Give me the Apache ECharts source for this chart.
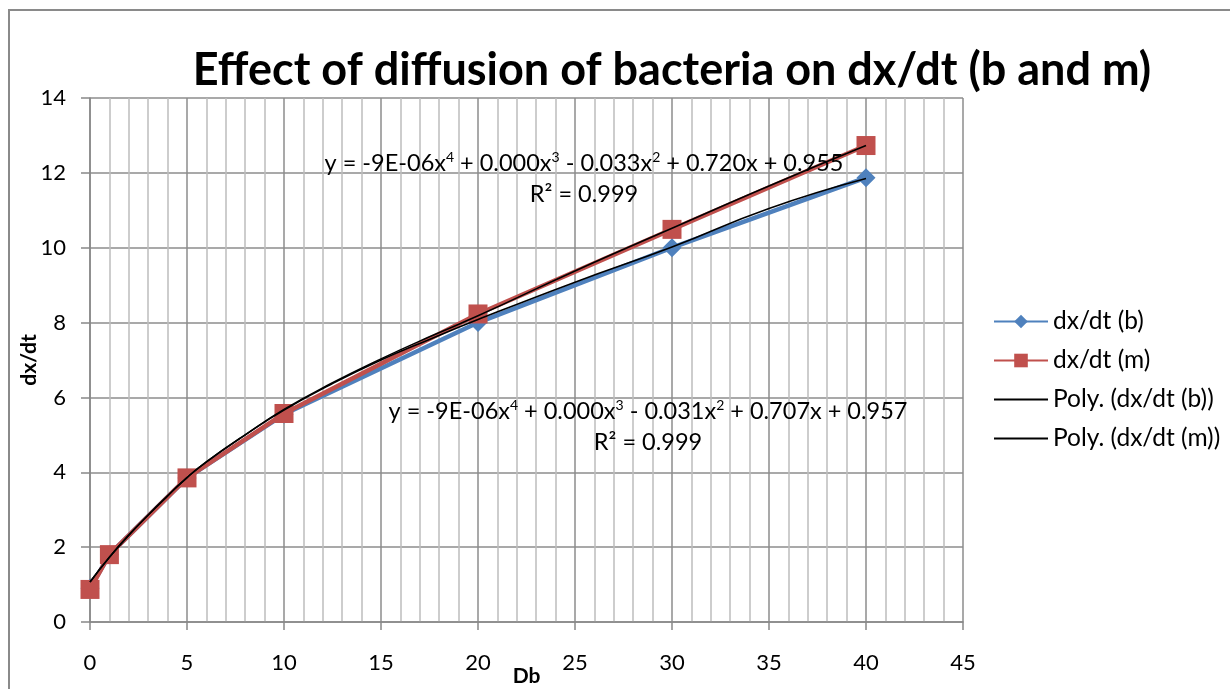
<!DOCTYPE html>
<html>
<head>
<meta charset="utf-8">
<script src="https://cdn.jsdelivr.net/npm/echarts@6/dist/echarts.min.js"></script>
<style>
  html, body { margin: 0; padding: 0; background: #fff; }
  #main { width: 1230px; height: 689px; }
</style>
</head>
<body>
<div id="main"></div>
<script>
// data
var xB = [0, 1, 5, 10, 20, 30, 40];
var dxdtB = [0.9, 1.8, 3.85, 5.55, 8.0, 10.0, 11.87];
var dxdtM = [0.87, 1.8, 3.85, 5.57, 8.23, 10.49, 12.73];

// trendlines (poly order 4)
var trendX = [0, 1, 2, 3, 4, 5, 6, 8, 10, 12.5, 15, 17.5, 20, 25, 30, 35, 40];
var trendB = [1.07, 1.73, 2.32, 2.86, 3.37, 3.86, 4.28, 5.0, 5.66, 6.37, 7.0, 7.55, 8.08, 9.08, 10.02, 11.05, 11.85];
var trendM = [1.07, 1.73, 2.32, 2.86, 3.37, 3.86, 4.28, 5.0, 5.68, 6.39, 7.03, 7.62, 8.18, 9.38, 10.52, 11.65, 12.73];

var eqM = 'y = -9E-06x{s|4} + 0.000x{s|3} - 0.033x{s|2} + 0.720x + 0.955';
var eqB = 'y = -9E-06x{s|4} + 0.000x{s|3} - 0.031x{s|2} + 0.707x + 0.957';

function pairs(xs, ys) {
    var out = [];
    for (var i = 0; i < xs.length; i++) out.push([xs[i], ys[i]]);
    return out;
}

var font = 'Lato, "Open Sans", sans-serif';
var chart = echarts.init(document.getElementById('main'));

var eqStyle = {
    fill: '#000', fontFamily: font, fontSize: 23.5, align: 'center', verticalAlign: 'middle',
    rich: { s: { fontSize: 14, verticalAlign: 'top', padding: [0, 0, 12, 0], fontFamily: font } }
};

chart.setOption({
    backgroundColor: '#fff',
    animation: false,
    title: {
        text: 'Effect of diffusion of bacteria on dx/dt (b and m)',
        left: 667, top: 43, textAlign: 'center',
        textStyle: { fontFamily: font, fontSize: 45, fontWeight: 'bold', color: '#000' }
    },
    legend: {
        orient: 'vertical',
        left: 988, top: 304,
        itemWidth: 54, itemHeight: 17, itemGap: 14,
        textStyle: { fontFamily: font, fontSize: 24.5, color: '#000' },
        data: [
            'dx/dt (b)',
            'dx/dt (m)',
            { name: 'Poly. (dx/dt (b))', itemStyle: { opacity: 0 } },
            { name: 'Poly. (dx/dt (m))', itemStyle: { opacity: 0 } }
        ]
    },
    grid: { left: 90, right: 267, top: 98, bottom: 67, outerBoundsMode: 'none' },
    xAxis: {
        type: 'value', min: 0, max: 45, interval: 5,
        name: 'Db', nameLocation: 'middle', nameGap: 44, nameMoveOverlap: false,
        nameTextStyle: { fontFamily: font, fontSize: 21, fontWeight: 'bold', color: '#000' },
        axisLine: { show: true, onZero: false, lineStyle: { color: '#888', width: 1.5 } },
        axisTick: { show: true, length: 8, lineStyle: { color: '#888', width: 1.5 } },
        axisLabel: { margin: 30, fontFamily: font, fontSize: 22, color: '#000' },
        splitLine: { show: true, lineStyle: { color: '#8c8c8c', width: 1.5 } },
        minorTick: { show: false, splitNumber: 5 },
        minorSplitLine: { show: true, lineStyle: { color: '#bdbdbd', width: 1.5 } }
    },
    yAxis: {
        type: 'value', min: 0, max: 14, interval: 2,
        name: 'dx/dt', nameLocation: 'middle', nameGap: 50, nameMoveOverlap: false,
        nameTextStyle: { fontFamily: font, fontSize: 21, fontWeight: 'bold', color: '#000' },
        axisLine: { show: true, lineStyle: { color: '#888', width: 1.5 } },
        axisTick: { show: true, length: 9, lineStyle: { color: '#888', width: 1.5 } },
        axisLabel: { margin: 24, fontFamily: font, fontSize: 22, color: '#000' },
        splitLine: { show: true, lineStyle: { color: '#8c8c8c', width: 1.5 } }
    },
    graphic: [
        {
            type: 'rect', silent: true, z: -1,
            shape: { x: 9, y: 10, width: 1240, height: 700 },
            style: { fill: null, stroke: '#8a8a8a', lineWidth: 2 }
        },
        { type: 'text', z: 100, style: Object.assign({}, eqStyle, { text: eqM, x: 584, y: 163 }) },
        { type: 'text', z: 100, style: Object.assign({}, eqStyle, { text: 'R² = 0.999', x: 584, y: 194 }) },
        { type: 'text', z: 100, style: Object.assign({}, eqStyle, { text: eqB, x: 648, y: 411 }) },
        { type: 'text', z: 100, style: Object.assign({}, eqStyle, { text: 'R² = 0.999', x: 648, y: 442 }) }
    ],
    series: [
        {
            name: 'dx/dt (b)', type: 'line', data: pairs(xB, dxdtB),
            symbol: 'diamond', symbolSize: 19,
            itemStyle: { color: '#4F81BD' },
            lineStyle: { color: '#4F81BD', width: 4.5 }
        },
        {
            name: 'dx/dt (m)', type: 'line', data: pairs(xB, dxdtM),
            symbol: 'rect', symbolSize: 19,
            itemStyle: { color: '#C0504D' },
            lineStyle: { color: '#C0504D', width: 4.5 }
        },
        {
            name: 'Poly. (dx/dt (b))', type: 'line', data: pairs(trendX, trendB),
            smooth: true, symbol: 'none', z: 5,
            itemStyle: { color: '#000' },
            lineStyle: { color: '#000', width: 1.6 }
        },
        {
            name: 'Poly. (dx/dt (m))', type: 'line', data: pairs(trendX, trendM),
            smooth: true, symbol: 'none', z: 5,
            itemStyle: { color: '#000' },
            lineStyle: { color: '#000', width: 1.6 }
        }
    ]
});
</script>
</body>
</html>
